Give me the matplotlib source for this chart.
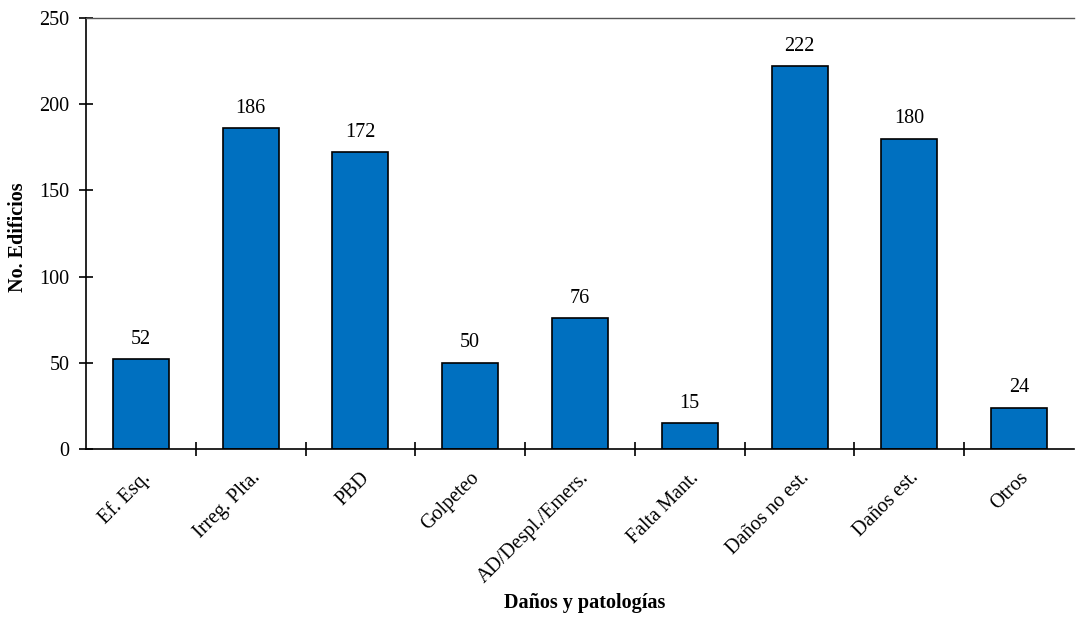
import matplotlib
matplotlib.use("Agg")
import matplotlib.pyplot as plt
import numpy as np

categories = ["Ef. Esq.", "Irreg. Plta.", "PBD", "Golpeteo", "AD/Despl./Emers.",
              "Falta Mant.", "Daños no est.", "Daños est.", "Otros"]
values = [52, 186, 172, 50, 76, 15, 222, 180, 24]
yticks = [0, 50, 100, 150, 200, 250]

plt.rcParams['font.family'] = ['Liberation Serif', 'DejaVu Serif']
FS = 14.5

fig = plt.figure(figsize=(10.76, 6.18), dpi=100)
ax = fig.add_axes([86/1076, 1-449/618, (1074-86)/1076, (449-18)/618])

x = np.arange(len(categories))
ax.bar(x, values, width=0.51, color="#0070C0", edgecolor="black", linewidth=1.2, zorder=2)
for xi, v in zip(x, values):
    ax.text(xi, v + 6, str(v), ha="center", va="bottom", fontsize=FS)

ax.set_xlim(-0.5, len(categories) - 0.5)
ax.set_ylim(0, 250)
ax.set_yticks(yticks)
ax.tick_params(axis="y", direction="inout", length=10, width=1.2, labelsize=FS, pad=7)

ax.set_xticks(x)
ax.set_xticklabels(categories, rotation=45, ha="right", rotation_mode="anchor", fontsize=FS)
ax.tick_params(axis="x", which="major", length=0, pad=14)
ax.set_xticks(np.arange(len(categories) - 1) + 0.5, minor=True)
ax.tick_params(axis="x", which="minor", direction="inout", length=10, width=1.2)

ax.spines["right"].set_visible(False)
ax.spines["top"].set_color("#555555")
ax.spines["top"].set_linewidth(1.0)
ax.spines["left"].set_linewidth(1.2)
ax.spines["bottom"].set_linewidth(1.2)

ax.set_ylabel("No. Edificios", fontsize=FS, fontweight="bold", va="center")
ax.yaxis.set_label_coords((18 - 86) / 988, (449 - 237) / 431)
ax.set_xlabel("Daños y patologías", fontsize=FS, fontweight="bold", va="center")
ax.xaxis.set_label_coords((585 - 86) / 988, (449 - 603) / 431)

fig.savefig("out.png", dpi=100)
